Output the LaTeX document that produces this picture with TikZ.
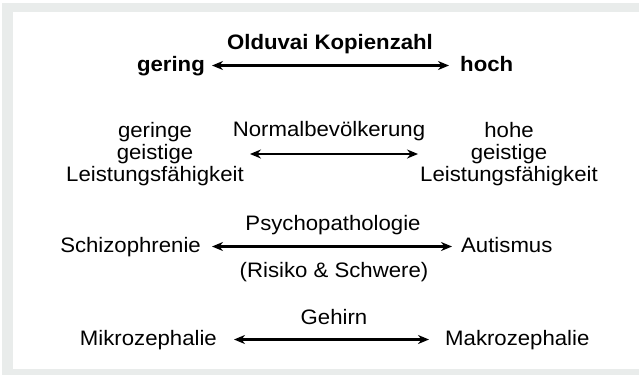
\documentclass[tikz,border=0pt]{standalone}
\usepackage{fontspec}
\setmainfont{Liberation Sans}[FakeStretch=1.06]
\usepackage{tikz}
\usetikzlibrary{positioning,calc,arrows.meta}
\definecolor{frame_gray}{HTML}{E9ECEB}
\tikzset{LABEL/.style={inner sep=0pt,font=\fontsize{21}{22.5}\selectfont,text height=15bp,text depth=4bp}}
\tikzset{BLOCK/.style={inner sep=0pt,font=\fontsize{21}{22.5}\selectfont,align=center}}
\tikzset{TITLE/.style={LABEL,font=\fontsize{21}{22.5}\selectfont\bfseries}}
\tikzset{ARROW/.style={line width=2.1bp,{Stealth[length=11bp,width=9bp]}-{Stealth[length=11bp,width=9bp]}}}

\begin{document}
\begin{tikzpicture}[x=1bp,y=-1bp]

\useasboundingbox (0,0) rectangle (639,375);
\fill[frame_gray] (2,3) rectangle (639,375);
\fill[white] (13,12) rectangle (639,369);

% Olduvai
\node[TITLE, anchor=base] (n_olduvai) at (330,49) {Olduvai Kopienzahl};
\node[TITLE, anchor=base east] (n_gering) at (205,71) {gering};
\node[TITLE, anchor=base west] (n_hoch) at (460,71) {hoch};
\draw[ARROW, shorten <=7bp, shorten >=11bp] (n_gering.east) -- (n_hoch.west);

% Leistung
\node[LABEL, anchor=base] (n_normal) at (329,136) {Normalbevölkerung};
\node[BLOCK] (n_low) at (155,154) {geringe\\geistige\\Leistungsfähigkeit};
\node[BLOCK] (n_high) at (509,154) {hohe\\geistige\\Leistungsfähigkeit};
\draw[ARROW, shorten <=6bp, shorten >=2bp] (n_low.east) -- (n_high.west);

% Psychopathologie
\node[LABEL, anchor=base] (n_psycho) at (333,230) {Psychopathologie};
\node[LABEL, anchor=base east] (n_schizo) at (201,252) {Schizophrenie};
\node[LABEL, anchor=base west] (n_autismus) at (461,252) {Autismus};
\node[LABEL, anchor=base] (n_risiko) at (334,277) {(Risiko \& Schwere)};
\draw[ARROW, shorten <=11bp, shorten >=9bp] (n_schizo.east) -- (n_autismus.west);

% Gehirn
\node[LABEL, anchor=base] (n_gehirn) at (334,324) {Gehirn};
\node[LABEL, anchor=base east] (n_mikro) at (217,345) {Mikrozephalie};
\node[LABEL, anchor=base west] (n_makro) at (445,345) {Makrozephalie};
\draw[ARROW, shorten <=17bp, shorten >=16bp] (n_mikro.east) -- (n_makro.west);

\end{tikzpicture}
\end{document}
